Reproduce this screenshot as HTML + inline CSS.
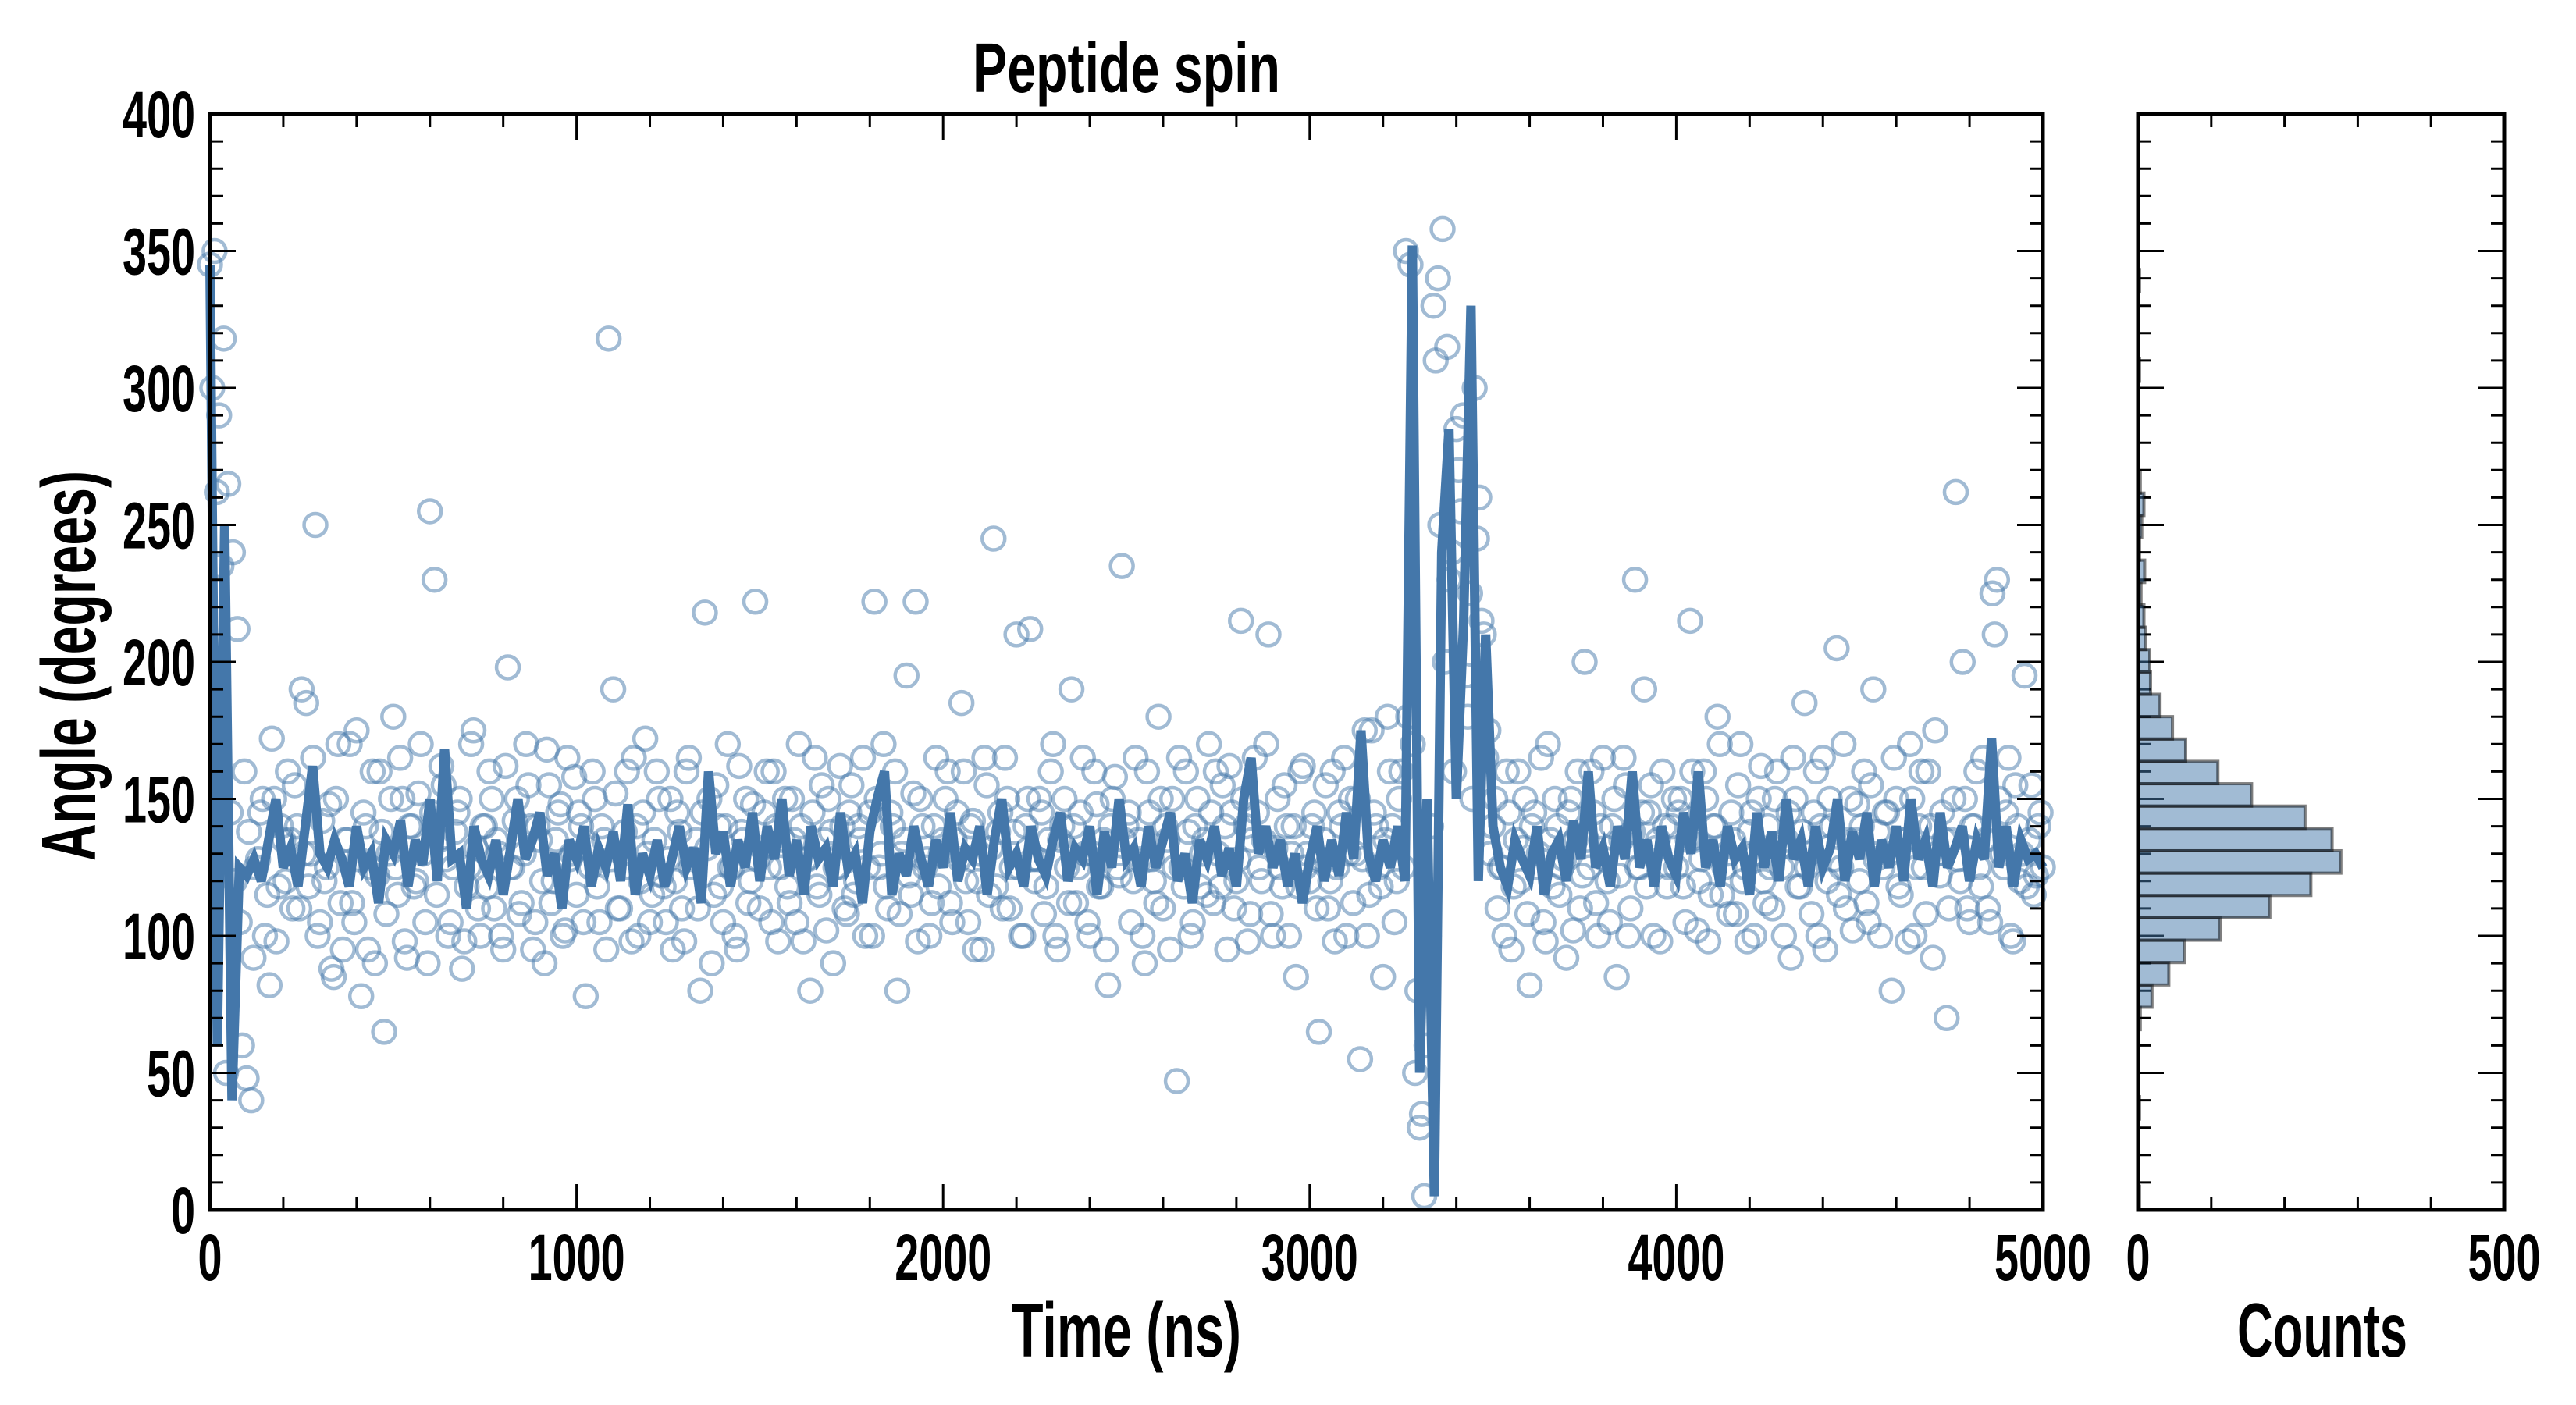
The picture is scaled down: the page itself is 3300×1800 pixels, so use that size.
<!DOCTYPE html>
<html><head><meta charset="utf-8"><style>
html,body{margin:0;padding:0;background:#fff;}
svg{display:block;}
text{font-family:"Liberation Sans Narrow","Liberation Sans",sans-serif;font-weight:bold;fill:#000;}
</style></head><body>
<svg id="chart" width="3300" height="1800" viewBox="0 0 3300 1800" xmlns="http://www.w3.org/2000/svg">
<text x="1443" y="118" font-size="90" text-anchor="middle" textLength="394" lengthAdjust="spacingAndGlyphs">Peptide spin</text>
<text x="1443" y="1738" font-size="98" text-anchor="middle" textLength="294" lengthAdjust="spacingAndGlyphs">Time (ns)</text>
<text x="2975" y="1738" font-size="98" text-anchor="middle" textLength="218" lengthAdjust="spacingAndGlyphs">Counts</text>
<text x="0" y="0" font-size="98" text-anchor="middle" textLength="500" lengthAdjust="spacingAndGlyphs" transform="translate(122,853) rotate(-90)">Angle (degrees)</text>
<g id="main"></g><g id="hist"></g>
</svg>
<script>
// ---- data ----
const lineStep = 20; // ns between smoothed samples
const lineValues = [345,60,250,40,125,122,128,120,135,150,125,132,118,140,162,130,125,135,128,118,
140,125,130,112,135,130,142,118,135,126,150,120,168,128,130,110,140,128,122,135,
115,132,150,128,135,145,122,130,110,135,128,140,118,132,125,138,120,148,115,130,
122,135,118,128,140,125,132,112,160,130,138,118,135,125,145,120,140,128,150,122,
135,115,140,128,132,118,145,125,130,112,138,150,160,115,130,122,140,128,118,135,
125,145,120,132,128,140,115,135,150,125,130,118,140,128,122,135,145,120,132,128,
140,115,138,125,150,128,132,118,140,125,135,145,120,130,112,135,128,140,122,132,
118,150,165,130,140,125,135,118,130,112,128,140,120,135,122,145,128,175,130,120,
135,125,140,120,352,50,150,5,240,285,150,215,330,120,210,140,125,118,135,128,
122,140,115,130,135,120,142,128,160,125,132,118,140,128,160,125,135,118,140,128,
122,145,130,160,125,135,118,140,128,132,115,145,125,138,120,150,128,135,118,140,
125,132,150,120,138,128,145,118,135,125,140,120,150,128,135,118,145,125,132,140,
120,135,128,172,125,140,118,135,128,130,125];
const scatterStep = 12.5; // ns between raw samples (two interleaved runs)
const scatterValues = [345,350,290,318,265,240,212,60,48,40,125,145,100,82,150,118,135,160,110,140,
190,185,130,250,105,120,148,85,170,95,135,112,175,78,140,125,90,160,65,130,
180,115,150,92,140,120,170,105,255,230,135,155,100,125,145,88,118,170,132,100,
140,160,110,130,95,198,125,150,112,170,140,105,135,90,155,120,145,100,165,130,
115,140,78,125,150,105,135,318,190,110,130,160,98,140,120,172,105,135,150,118,
128,95,145,110,160,125,135,80,218,150,115,140,105,170,125,95,138,150,120,222,
110,145,125,160,98,135,118,150,105,140,128,80,165,115,135,150,90,125,140,108,
155,120,135,100,145,222,125,170,110,140,80,130,195,115,222,150,125,100,140,118,
135,160,105,145,185,120,140,95,130,165,115,245,138,110,150,125,210,100,140,212,
120,150,108,135,170,95,140,125,190,112,145,130,100,160,118,135,82,150,125,235,
140,105,165,128,90,145,120,180,110,135,150,47,125,160,100,140,118,135,170,112,
130,155,95,145,120,215,140,108,165,125,135,210,100,150,118,140,130,85,160,125,
120,145,65,135,110,160,125,140,100,150,130,55,175,115,145,125,85,180,140,120,
160,350,345,50,30,5,100,330,340,358,315,240,285,255,195,225,300,260,210,175,
140,110,125,160,95,135,120,150,82,145,130,105,170,118,140,125,92,150,135,110,
200,125,145,100,165,120,140,85,135,155,110,230,125,190,145,100,135,160,118,140,
125,150,105,215,135,120,160,98,140,180,115,130,145,108,170,125,138,100,150,120,
140,110,160,125,135,92,150,118,185,130,145,100,165,120,140,205,125,110,150,135,
120,160,105,190,138,125,145,80,150,115,135,170,100,140,125,160,92,130,145,70,
135,262,120,150,105,140,125,165,110,225,230,130,145,100,155,120,195,135,115,140,125];
const scatterOffset2 = 6.25;
const scatterValues2 = [300,262,235,50,145,120,105,160,138,92,128,150,115,172,98,140,120,135,155,110,
130,118,165,100,142,125,88,150,112,135,170,105,128,145,95,160,122,138,108,150,
125,165,98,140,118,152,130,90,145,115,162,128,105,138,150,98,125,175,110,140,
118,150,135,100,162,125,142,108,130,155,95,140,120,168,112,135,148,102,128,158,
145,105,132,160,118,140,95,128,152,110,138,125,165,100,145,130,115,160,122,105,
150,120,138,98,165,128,110,145,132,90,155,118,140,125,100,162,135,112,148,128,
132,160,105,140,125,150,112,135,170,98,128,145,118,155,102,138,125,162,110,145,
115,140,165,125,100,150,130,118,145,160,108,135,122,152,98,140,128,112,165,130,
150,112,135,128,160,105,142,120,95,155,132,118,145,165,110,138,125,100,150,128,
128,145,118,160,100,135,150,112,140,125,165,105,130,148,118,95,140,158,122,135,
145,120,135,100,160,128,112,150,140,95,125,165,118,138,105,150,130,115,145,160,
118,140,162,110,128,150,98,135,145,120,170,108,132,125,155,100,140,118,162,130,
140,110,128,155,120,98,145,165,130,112,150,128,100,175,140,118,135,160,105,150,
125,180,170,80,35,60,140,310,250,200,230,160,270,290,180,150,245,215,165,130,
150,125,100,145,118,160,132,108,140,125,165,98,135,150,115,128,145,102,160,122,
135,160,112,140,128,105,150,122,165,100,138,125,145,118,155,132,98,140,125,150,
145,118,135,160,102,128,150,115,140,170,125,108,135,155,120,98,145,130,162,112,
125,150,132,100,145,165,118,138,125,108,160,140,95,150,128,115,170,135,102,148,
140,112,155,128,100,145,130,165,118,135,98,150,125,160,108,140,175,122,135,110,
150,128,200,110,140,160,118,135,105,210,150,125,165,98,140,130,118,155,122,145];
const histStart = 0.5;
const histBinWidth = 8.16;
const histCounts = [2,1,1,1,2,1,1,1,3,19,42,63,112,180,236,277,265,228,155,109,65,47,30,17,16,10,8,4,9,2,5,8,3,1,1,1,0,2,1,1,1,2,1,1];
const xTickLabels = ["0","1000","2000","3000","4000","5000"];
const yTickLabels = ["0","50","100","150","200","250","300","350","400"];
const histTickLabels = ["0","500"];

// ---- layout ----
const NS="http://www.w3.org/2000/svg";
const M={l:269,r:2617,t:146,b:1550};
const H={l:2739,r:3208};
const X0=0,X1=5000,Y0=0,Y1=400,C1=500;
const xs=v=>M.l+(v-X0)/(X1-X0)*(M.r-M.l);
const ys=v=>M.b-(v-Y0)/(Y1-Y0)*(M.b-M.t);
const hx=v=>H.l+v/C1*(H.r-H.l);
function mk(tag,attrs,parent){const e=document.createElementNS(NS,tag);for(const k in attrs)e.setAttribute(k,attrs[k]);parent.appendChild(e);return e;}
const gm=document.getElementById('main'), gh=document.getElementById('hist');

// scatter
const gs=mk('g',{},gm);


function addPoint(t,v){
  const c=mk('circle',{cx:xs(t),cy:ys(v),r:14.5,fill:'none',stroke:'rgba(68,119,170,0.5)','stroke-width':4.5},gs);
  
  
}
scatterValues.forEach((v,i)=>addPoint(i*scatterStep,v));
scatterValues2.forEach((v,i)=>addPoint(i*scatterStep+scatterOffset2,v));
// line
const pts=lineValues.map((v,i)=>xs(i*lineStep).toFixed(1)+','+ys(v).toFixed(1)).join(' ');
const pl=mk('polyline',{points:pts,fill:'none',stroke:'#4477aa','stroke-width':12,'stroke-linejoin':'miter'},gm);



// histogram
histCounts.forEach((c,i)=>{
  const a=histStart+i*histBinWidth, b=a+histBinWidth;
  if(c<=0)return;
  const r=mk('rect',{x:hx(0),y:ys(b),width:hx(c)-hx(0),height:ys(a)-ys(b),fill:'rgba(68,119,170,0.5)',stroke:'rgba(0,0,0,0.5)','stroke-width':4},gh);
  
  
});

// frames & ticks
function frame(g,l,r,name){
  const f=mk('rect',{x:l,y:M.t,width:r-l,height:M.b-M.t,fill:'none',stroke:'#000','stroke-width':5},g);
  
  
}
frame(gm,M.l,M.r,'main-axes-frame');
frame(gh,H.l,H.r,'hist-axes-frame');
const tg=mk('g',{stroke:'#000','stroke-width':3},gm);
function tick(x1,y1,x2,y2){mk('line',{x1,y1,x2,y2},tg);}
for(let v=0;v<=5000;v+=200){const x=xs(v),L=v%1000===0?33:17;tick(x,M.b,x,M.b-L);tick(x,M.t,x,M.t+L);}
for(let v=0;v<=400;v+=10){const y=ys(v),L=v%50===0?33:17;tick(M.l,y,M.l+L,y);tick(M.r,y,M.r-L,y);tick(H.l,y,H.l+L,y);tick(H.r,y,H.r-L,y);}
for(let v=0;v<=500;v+=100){const x=hx(v);tick(x,M.b,x,M.b-17);tick(x,M.t,x,M.t+17);}

// tick labels
xTickLabels.forEach((s,i)=>{
  const t=mk('text',{x:xs(i*1000),y:1640,'font-size':84,'text-anchor':'middle',textLength:s.length*31,lengthAdjust:'spacingAndGlyphs'},gm);
  t.textContent=s;
  
  
});
yTickLabels.forEach((s,i)=>{
  const t=mk('text',{x:250,y:ys(i*50)+30,'font-size':84,'text-anchor':'end',textLength:s.length*31,lengthAdjust:'spacingAndGlyphs'},gm);
  t.textContent=s;
  
  
});
histTickLabels.forEach((s,i)=>{
  const t=mk('text',{x:hx(i*500),y:1640,'font-size':84,'text-anchor':'middle',textLength:s.length*31,lengthAdjust:'spacingAndGlyphs'},gh);
  t.textContent=s;
  
  
});
</script>
</body></html>
